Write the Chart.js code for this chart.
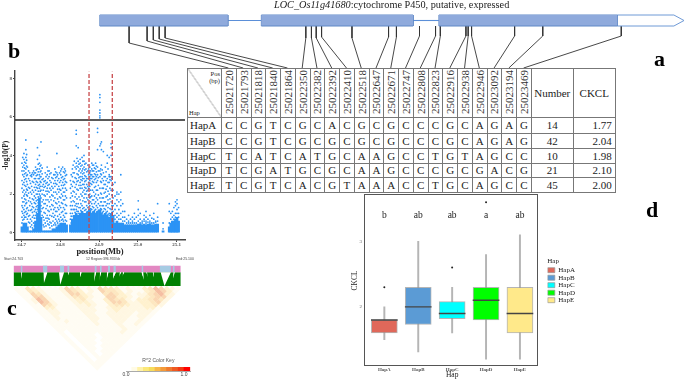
<!DOCTYPE html>
<html><head><meta charset="utf-8">
<script src="https://cdn.jsdelivr.net/npm/chart.js@4"></script>
<style>
html,body{margin:0;padding:0;background:#fff;width:685px;height:380px;overflow:hidden}
#fig{position:absolute;left:0;top:0;width:685px;height:380px;filter:blur(.35px)}
canvas{position:absolute;display:block}
.t{position:absolute;font-family:"Liberation Serif",serif;color:#000;white-space:nowrap}
.l{font-weight:bold;font-size:22px;line-height:22px}
.s{font-family:"Liberation Sans",sans-serif;font-size:3.5px;color:#444}
table{position:absolute;left:187px;top:68px;border-collapse:collapse;table-layout:fixed;font-family:"Liberation Serif",serif;font-size:11px;color:#222;background:#fff}
td,th{border:1px solid #777;padding:0;text-align:center;font-weight:normal;line-height:11px;overflow:hidden}
.v{writing-mode:vertical-rl;transform:rotate(180deg);display:inline-block;line-height:12px;color:#333}
.corner{position:relative;background:linear-gradient(to top right,transparent calc(50% - .5px),#777 50%,transparent calc(50% + .5px))}
.corner span{position:absolute;font-size:6.5px;line-height:7px}
</style></head><body><div id="fig">
<canvas id="gene" width="685" height="69" style="left:0;top:0"></canvas>
<div class="t" style="left:274px;top:-1px;font-size:10.25px;color:#222"><i>LOC_Os11g41680</i>:cytochrome P450, putative, expressed</div>
<div id="tbl"></div>
<canvas id="gwas" width="190" height="196" style="left:0;top:62px"></canvas>
<canvas id="ld" width="195" height="128" style="left:0;top:252px"></canvas>
<canvas id="key" width="78" height="28" style="left:118px;top:352px"></canvas>
<canvas id="box" width="250" height="190" style="left:340px;top:190px"></canvas>
<div class="t s" style="left:4px;top:257px">Start:24.703</div>
<div class="t s" style="left:86px;top:257px">12 Region:396.933 kb</div>
<div class="t s" style="left:176px;top:257px">End:25.100</div>
<div class="t l" style="left:654px;top:48px">a</div>
<div class="t l" style="left:8px;top:40px">b</div>
<div class="t l" style="left:7px;top:297px">c</div>
<div class="t l" style="left:646px;top:199px">d</div>
<div style="position:absolute;left:364px;top:194px;width:172px;height:170px;border:1.5px solid #555;pointer-events:none"></div>
</div>
<script>
// ---------- panel a: gene model and table ----------
const snpPositions = ['25021720','25021793','25021818','25021840','25021864','25022350','25022382','25022392','25022410','25022518','25022647','25022671','25022747','25022808','25022823','25022916','25022938','25022946','25023092','25023194','25023469'];
const snpGeneMarks = [25021720,25021784,25021806,25021827,25021848,25022348,25022368,25022385,25022404,25022512,25022642,25022670,25022752,25022809,25022826,25022917,25022925,25022937,25023090,25023190,25023469];
const elbowLevels = [43,41,40,39,38,38,38,38,37,38,37,37,36,36,36,36,36,36,36,36,36];
const haplotypes = ['HapA','HapB','HapC','HapD','HapE'];
const hapAlleles = ['CCGTCGCACGCGCCCGCAGAG','CCGTCGCGCGCGCCCGCAGAG','TCATCATGCAAGCCTGTAGCC','TCGATGCGCAAGCCCGCGACG','TCGTCACGTAAACCTGCAGCC'];
const hapNumber = [14,42,10,21,45];
const hapCKCL = ['1.77','2.04','1.98','2.10','2.00'];
const exons = [[25021616,25022071],[25022190,25022729],[25022821,25023454]];
const introns = [[25022071,25022190],[25022729,25022821]];
const utr = [25023454,25023656,25023692];

// ---------- panel b: association scan ----------
const gwasThreshold = 5.84;
const gwasRegion = [24.874,24.934];
const gwasPos = [24.701,24.706,24.711,24.715,24.721,24.726,24.731,24.736,24.741,24.746,24.750,24.756,24.761,24.766,24.771,24.776,24.781,24.786,24.791,24.796,24.801,24.806,24.811,24.816,24.826,24.831,24.836,24.841,24.846,24.851,24.856,24.861,24.866,24.871,24.876,24.881,24.886,24.891,24.896,24.902,24.906,24.911,24.916,24.921,24.926,24.931,24.936,24.941,24.946,24.951,24.956,24.961,24.966,24.971,24.976,24.981,24.986,24.991,24.996,25.001,25.006,25.011,25.016,25.021,25.026,25.031,25.036,25.041,25.046,25.051,25.065,25.081,25.085,25.089,25.093,25.097,25.101,25.105];
const gwasBand = [.3,.5,.5,.3,.1,.1,.2,.6,1,1.8,.8,.1,.1,.1,.1,.1,.2,.2,.3,.4,.5,.5,.5,.4,.4,.7,.9,1,.9,1,1.1,1,1,1.1,1.2,1,1.1,1,1.1,1.2,1,.9,1,.9,.8,1,.9,.5,.6,.5,.5,.5,.4,.4,.4,.4,.4,.4,.4,.45,.45,.4,.45,.4,.45,.45,.4,.4,.45,.45,.1,.3,.5,.6,.6,.7,.8,.6];
const gwasLogP = [
[.5,.8,1.1,1.4,1.8,2.3,2.7,3.2,3.6],
[.7,.9,1.2,1.6,1.9,2.2,2.6,2.9,3.2,3.5,3.8,4.1],
[.8,1.1,1.5,1.7,2.1,2.4,2.8,3.1,3.3,3.6,3.9,4.3,4.8],
[.7,1,1.3,1.9,2.2,2.5,3,3.4],
[.5,.9,1.4,1.8,2.3,2.7,3.1],
[.4,.6,1.2,1.5,2,2.4,2.9,3],
[.5,.9,1.3,1.7,2.1,2.6,3,3.2],
[.9,1.2,1.5,1.8,2.2,2.5,2.8,3.1,3.4],
[1.2,1.4,1.7,2,2.3,2.6,3,3.3,3.8,4.4],
[2,2.3,2.5,2.8,3,3.3,3.6,4],
[1.1,1.4,1.8,2.2,2.6,2.9,3.2,3.5,4.7],
[.4,.8,1.3,1.7,2.2,2.5,2.8],
[.5,1,1.5,1.9,2.4,2.7,3.1],
[.6,.9,1.4,2,2.3,2.6,3,3.4],
[.4,.7,1.1,1.6,2.1,2.5,2.9,3.2],
[.5,1.2,1.7,2.2,2.6,3.1],
[.6,1,1.4,1.9,2.3,2.8],
[.5,.9,1.3,1.8,2.4,2.7,3,3.3],
[.6,1.1,1.5,2,2.5,2.9,3.1,4.1],
[.7,1.2,1.6,2.1,2.4,2.8,3.4],
[.8,1.3,1.8,2.2,2.7,3,3.2],
[.7,1.1,1.5,1.9,2.3,2.6,2.9,3.4],
[.8,1.2,1.7,2.1,2.5,2.8,3.1,3.3],
[.6,1,1.4,1.8,2.2,2.6,3],
[.7,1,1.4,1.8,2.3,2.7],
[1,1.4,1.9,2.4,2.9,3.3],
[1.2,1.6,2.1,2.6,3.1,3.7],
[1.2,1.5,2,2.5,2.8,3.3,3.6,4.5,5.1,5.3],
[1.1,1.5,2.2,2.7,3,3.4,3.7,4.4],
[1.3,1.7,2.3,2.6,2.9,3.3,3.6,3.8],
[1.4,1.9,2.3,2.7,2.9,3.2,3.5,3.9],
[1.3,1.8,2.2,2.5,2.8,3.1,3.4,3.7,4],
[1.2,1.6,2,2.3,2.7,2.9,3.3,3.6],
[1.3,1.7,2.2,2.4,2.8,3.2,3.5],
[1.4,1.8,2,2.4,2.7,2.9,3.1,3.4],
[1.2,1.5,1.9,2.5,2.8,3,3.3,3.6],
[1.3,1.7,2.1,2.6,2.9,3.2,3.5],
[1.2,1.6,2,2.4,2.8,3,3.3,3.6],
[1.3,1.7,2.2,2.7,3,3.4,4.3,5.2,5.4],
[1.4,1.8,2.3,2.9,3.2,4.5,5.95,6.05,6.2,6.35,6.75,7,7.15],
[1.2,1.6,2,2.6,3,3.5,4.3,4.7],
[1.1,1.4,1.8,2.3,2.7,3.1,4.2],
[1.2,1.6,2.1,2.5,2.9,3.4],
[1.1,1.5,1.9,2.4,2.8,3.6,4],
[1,1.5,2,2.6,2.9,3,3.9],
[1.2,1.6,2.2,2.7,2.9,3.5,4,4.4,4.6],
[1.1,1.4,1.8,2.2,2.5],
[.7,.9,1.2,1.5,1.9,2.6],
[.8,1,1.4,1.7,2,2.1],
[.7,.9,1.2,1.6,2],
[.7,1,1.4,1.7,2.1,3],
[.6,.8,1.1,1.5],
[.6,.8,1.1],
[.5,.7],
[.5,.6,.9],
[.5,.7],
[.5,.6,.8],
[.5,.7,1],
[.5,.8],
[.6,.9,1.2,1.65],
[.5,.7,1],
[.5,.6],
[.6,.7,.9],
[.5,.6,.8,1.1],
[.55,.7],
[.5,.6,.9],
[.5,.75],
[.5,.7,1],
[.55,.6],
[.6,.8,1.5],
[.2,.5],
[.5,1.1,1.5],
[.7,1],
[.8,1.1],
[.7,.9,1.3],
[.8,1,1.4,1.6],
[1,1.2,1.5,1.7],
[.8,1,1.3]
];
const gwasPosInner = [24.703,24.708,24.713,24.718,24.723,24.728,24.733,24.738,24.743,24.748,24.753,24.758,24.763,24.768,24.773,24.778,24.783,24.788,24.793,24.798,24.803,24.808,24.813,24.828,24.833,24.838,24.843,24.848,24.853,24.858,24.863,24.868,24.873,24.878,24.883,24.888,24.893,24.898,24.904,24.908,24.913,24.918,24.923,24.928,24.933];
const gwasLogPInner = [
[.65,1,1.3,1.6,2.1,2.5,3,3.4,3.9],
[.8,1.05,1.4,1.75,2,2.45,2.75,3.05,3.35,3.65],
[.95,1.25,1.55,1.95,2.25,2.65,2.95,3.45,3.75,4.05],
[.55,.85,1.15,1.65,2.05,2.35,2.8,3.2],
[.3,.7,1.15,1.6,2.1,2.55,2.95],
[.25,.8,1.05,1.35,1.75,2.2,2.65,3.1],
[.35,.75,1.1,1.55,1.9,2.35,2.8,3.1],
[.75,1.05,1.35,1.65,2,2.35,2.65,2.95,3.25],
[1.1,1.3,1.55,1.85,2.15,2.45,2.8,3.15,3.55],
[1.9,2.15,2.4,2.65,2.9,3.15,3.45],
[.9,1.25,1.6,2,2.4,2.75,3.05,3.35],
[.3,.65,1.05,1.5,1.95,2.35,2.65],
[.35,.75,1.25,1.7,2.15,2.55,2.9],
[.45,.75,1.15,1.7,2.15,2.45,2.8,3.2],
[.25,.55,.9,1.35,1.85,2.3,2.7,3.05],
[.35,.85,1.45,1.95,2.4,2.85],
[.4,.8,1.2,1.65,2.1,2.55,3],
[.4,.7,1.1,1.55,2.1,2.55,2.85,3.15],
[.5,.85,1.3,1.75,2.25,2.7,3],
[.6,.95,1.4,1.85,2.25,2.6,3.1],
[.65,1.05,1.55,2,2.45,2.85,3.3],
[.6,.9,1.3,1.7,2.1,2.45,2.75,3.15],
[.65,1,1.45,1.9,2.3,2.65,2.95,3.2],
[.5,.85,1.2,1.6,2.05,2.5,3],
[.85,1.2,1.65,2.15,2.65,3.1,3.5],
[1.05,1.4,1.85,2.35,2.85,3.4],
[1.1,1.35,1.75,2.25,2.65,3.05,3.45,3.85],
[1,1.3,1.85,2.45,2.85,3.2,3.55],
[1.15,1.5,2,2.45,2.75,3.1,3.45],
[1.25,1.65,2.1,2.5,2.8,3.05,3.3,3.7],
[1.15,1.6,2,2.35,2.65,2.95,3.25,3.55],
[1.05,1.4,1.8,2.15,2.5,2.8,3.15],
[1.15,1.5,1.95,2.3,2.6,3,3.3],
[1.25,1.6,1.85,2.2,2.55,2.8,3,3.2],
[1.05,1.35,1.7,2.2,2.65,2.9,3.2,3.5],
[1.15,1.5,1.9,2.35,2.75,3.05,3.35],
[1.05,1.4,1.8,2.2,2.6,2.9,3.15,3.45],
[1.15,1.5,1.95,2.45,2.85,3.2],
[1.25,1.6,2.05,2.65,3.05,3.3,4.6],
[1.05,1.4,1.8,2.3,2.8,3.25],
[.95,1.25,1.6,2.05,2.5,2.9],
[1.05,1.4,1.85,2.25,2.7,3.15],
[.95,1.3,1.7,2.15,2.6,3.3],
[.9,1.25,1.75,2.3,2.75,2.9],
[1.05,1.4,1.95,2.45,2.8,3.2]
];

// ---------- panel c: LD heat map ----------
const ldMarkers = 30;
const ldRows = ['114321112543121544312113465321','11432111254312154431211346531','1154211125532114543212245632','115521112443211553321234552','12652111234211354421334542','1265211123321135542233452','115421112232113443223342','11331111222112332222331','1122111122211232222221','112211112211222221221','11211111221122221221','1121111122112221121','111211112111221121','11111111211121121','1111111111112111','111111111111211','10111111111211','1011110111111','101111011111','10111011111','1011101111','101101111','10110111','1010111','101011','10111','1011','111','11','1'];
const ldPalette = ['#ffffff','#fffcf3','#fff7e2','#fff1ce','#fde7c0','#fad6b2','#f5bea2','#f2a888'];
const blueStripes = [[1.26,1.61],[5.28,6.08],[8.32,9.06],[9.64,10.04],[14.52,14.92],[15.49,15.83],[16.92,17.33],[17.9,18.36],[22.95,23.29],[26.22,28.23],[28.57,28.92]];
const whiteWedges = [[1.38,1.26,1.55,-1.95],[5.34,5.45,6.08,-1.15],[8.15,8.38,9.06,-.46],[9.75,9.47,9.93,-1.95],[11.93,11.59,12.22,-1.38],[14.52,14.34,14.8,-.8],[15.49,15.26,15.72,-1.38],[16.75,16.52,17.04,-1.15],[17.9,17.27,18.36,-.23],[19.05,18.47,19.28,-1.38],[19.62,19.05,19.85,-1.95],[22.95,23.52,23.29,-1.6],[23.81,24.38,23.98,-1.95],[24.96,25.36,25.13,-1.95],[26.39,27.08,28.23,0],[28.69,28.4,28.92,-1.38]];
const keyPos = [.05,.15,.25,.35,.45,.55,.65,.75,.85,.95,1.05];
const keyColors = ['#ffffff','#fffbe6','#fff2a8','#fbe87a','#f6dc5c','#f7b74a','#f39a3a','#ef7a2e','#ee5a22','#f23a14','#ff0000'];

// ---------- panel d: CKCL box plot ----------
const boxColors = ['#e0685a','#5b9bd5','#00ffff','#00ff00','#ffe98a'];
const boxQ1 = [1.6,1.73,1.82,1.8,1.6];
const boxQ3 = [1.8,2.3,2.08,2.3,2.3];
const boxMedian = [1.8,2,1.9,2.1,1.9];
const whiskerLow = [1.5,1.31,1.6,1.2,1.2];
const whiskerHigh = [2,3,2.3,2.8,3.1];
const outlierHap = [1,3,4];
const outlierVal = [2.3,2.6,3.6];
const letters = ['b','ab','ab','a','ab'];
const letterY = 3.4;

// ---------- build table ----------
(function(){
  let h = '<table style="width:428px"><colgroup><col style="width:34px">'+snpPositions.map(()=>'<col style="width:14.76px">').join('')+'<col style="width:42px"><col style="width:42px"></colgroup>';
  h += '<tr style="height:49px"><th class="corner"><span style="right:1px;top:1px;text-align:right">Pos<br>(bp)</span><span style="left:1px;bottom:1px">Hap</span></th>';
  h += snpPositions.map(p=>'<th><span class="v">'+p+'</span></th>').join('');
  h += '<th>Number</th><th>CKCL</th></tr>';
  const rowH=[16,15,15,14,15];
  haplotypes.forEach((hp,i)=>{
    h += '<tr style="height:'+rowH[i]+'px"><td style="text-align:left;padding-left:2px">'+hp+'</td>';
    h += hapAlleles[i].split('').map(a=>'<td>'+a+'</td>').join('');
    h += '<td>'+hapNumber[i]+'</td><td style="text-align:right;padding-right:3px">'+hapCKCL[i]+'</td></tr>';
  });
  document.getElementById('tbl').innerHTML = h+'</table>';
})();

Chart.defaults.animation = false;
Chart.defaults.responsive = false;
Chart.defaults.plugins.legend.display = false;
Chart.defaults.plugins.tooltip.enabled = false;
const serif = '"Liberation Serif", serif';

// ---------- gene chart (chart area = whole canvas) ----------
const pxPerBp = 0.2814, bpAtZeroPx = 25021720 - 129.1/pxPerBp;
const bpOfPx = px => bpAtZeroPx + px/pxPerBp;
const exonTop = 15, exonBot = 26, exonMid = 20.5, tableTop = 68;
const geneSets = [];
snpGeneMarks.forEach((bp,i)=>{
  geneSets.push({data:[{x:bp,y:exonBot},{x:bp,y:elbowLevels[i]},{x:bpOfPx(228.4+14.76*i),y:tableTop}],showLine:true,borderColor:'#333',borderWidth:.9,pointRadius:0,order:3});
});
introns.forEach(n=>geneSets.push({data:n.map(x=>({x,y:exonMid})),showLine:true,borderColor:'#5b8fd8',borderWidth:1.1,pointRadius:0,order:2}));
exons.forEach(e=>{
  geneSets.push({data:[{x:e[0],y:exonBot},{x:e[1],y:exonBot}],showLine:true,fill:{value:exonTop},backgroundColor:'#8faadc',borderColor:'#5f88c6',borderWidth:1,pointRadius:0,order:1});
  geneSets.push({data:[{x:e[0],y:exonBot},{x:e[0],y:exonTop},{x:e[1],y:exonTop},{x:e[1],y:exonBot}],showLine:true,borderColor:'#5f88c6',borderWidth:1,pointRadius:0,order:1});
});
geneSets.push({data:[{x:utr[0],y:exonBot},{x:utr[1],y:exonBot},{x:utr[2],y:exonMid},{x:utr[1],y:exonTop},{x:utr[0],y:exonTop}],showLine:true,borderColor:'#6f9ad6',borderWidth:1,pointRadius:0,order:1});
new Chart('gene',{type:'scatter',data:{datasets:geneSets},options:{layout:{padding:0},scales:{
  x:{type:'linear',display:false,min:bpOfPx(0),max:bpOfPx(685)},
  y:{type:'linear',display:false,min:0,max:69,reverse:true}}}});

// ---------- GWAS chart ----------
const gwasPts=[];
gwasLogP.forEach((vals,i)=>vals.forEach(v=>gwasPts.push({x:gwasPos[i],y:v})));
gwasLogPInner.forEach((vals,i)=>vals.forEach(v=>gwasPts.push({x:gwasPosInner[i],y:v})));
const blue='#2b93f5';
const axisCol='#444';
new Chart('gwas',{data:{datasets:[
  {type:'scatter',data:[{x:gwasRegion[0],y:-.38},{x:gwasRegion[0],y:8.34}],showLine:true,borderColor:'#c8474a',borderWidth:1.3,borderDash:[4,2],pointRadius:0,order:1},
  {type:'scatter',data:[{x:gwasRegion[1],y:-.38},{x:gwasRegion[1],y:8.34}],showLine:true,borderColor:'#c8474a',borderWidth:1.3,borderDash:[4,2],pointRadius:0,order:1},
  {type:'scatter',data:[{x:24.683,y:gwasThreshold},{x:25.1216,y:gwasThreshold}],showLine:true,borderColor:'#222',borderWidth:1.4,pointRadius:0,order:2},
  {type:'scatter',data:gwasPts,backgroundColor:blue,pointRadius:.9,borderWidth:0,order:3},
  {type:'bar',data:gwasPos.map((x,i)=>({x,y:[0,gwasBand[i]]})),backgroundColor:blue,barThickness:2.1,grouped:false,order:4}
]},options:{layout:{padding:{top:8.7,right:5,left:2,bottom:0}},scales:{
  x:{type:'linear',offset:false,min:24.683,max:25.1216,afterFit(s){s.height=18},afterBuildTicks(a){a.ticks=[24.7,24.8,24.9,25,25.1].map(value=>({value}))},
     ticks:{font:{family:serif,size:5,weight:'bold'},color:'#555',padding:0,maxRotation:0,callback:v=>v.toFixed(1)},
     grid:{drawOnChartArea:false,offset:false,tickLength:2,color:axisCol},border:{color:axisCol,width:1.4},
     title:{display:true,text:'position(Mb)',font:{family:serif,size:8.5,weight:'bold'},color:'#222',padding:{top:0,bottom:1}}},
  y:{type:'linear',min:-.38,max:8.39,afterFit(s){s.width=13},afterBuildTicks(a){a.ticks=[0,2,4,6,8].map(value=>({value}))},
     ticks:{font:{family:serif,size:5,weight:'bold'},color:'#555',padding:1},
     grid:{drawOnChartArea:false,tickLength:2,color:axisCol},border:{color:axisCol,width:1.4},
     title:{display:true,text:'-log10(P)',font:{family:serif,size:7.5,weight:'bold'},color:'#222',padding:0}}
}}});

// ---------- LD chart ----------
const cellPts=[],cellCols=[];
ldRows.forEach((row,r)=>row.split('').forEach((c,k)=>{cellPts.push({x:k+(r+1)/2,y:r+1});cellCols.push(ldPalette[+c]);}));
const ldSets=[];
const bandSet=(pts,base,col,ord)=>({data:pts,showLine:true,fill:{value:base},backgroundColor:col,borderWidth:0,borderColor:'transparent',pointRadius:0,order:ord});
whiteWedges.forEach(w=>ldSets.push(bandSet([{x:w[0],y:-5.06},{x:w[1],y:w[3]},{x:w[2],y:-5.06}],-5.06,'#ffffff',1)));
blueStripes.forEach(s=>ldSets.push(bandSet([{x:s[0],y:-5.06},{x:s[1],y:-5.06}],-7.47,'#a6cbe3',2)));
ldSets.push(bandSet([{x:0,y:-5.06},{x:ldMarkers,y:-5.06}],-7.47,'#e288c2',4));
ldSets.push(bandSet([{x:0,y:0},{x:ldMarkers,y:0}],-5.06,'#008000',4));
ldSets.push({data:cellPts,pointStyle:'rectRot',pointRadius:2.96,borderWidth:0,pointBorderWidth:0,pointBackgroundColor:cellCols,order:5});
new Chart('ld',{type:'scatter',data:{datasets:ldSets},options:{layout:{padding:0},scales:{
  x:{type:'linear',display:false,min:-1.72,max:31.84},
  y:{type:'linear',display:false,min:-11.02,max:33.05,reverse:true}}}});

// ---------- colour key ----------
new Chart('key',{type:'bar',data:{datasets:[{data:keyPos.map((x)=>({x,y:[0,1]})),backgroundColor:keyColors,barThickness:5.9}]},options:{
  layout:{padding:{left:8,right:5.3}},
  plugins:{title:{display:true,text:'R^2 Color Key',font:{family:'"Liberation Sans",sans-serif',size:5,weight:'normal'},color:'#555',padding:{top:6,bottom:3}}},
  scales:{x:{type:'linear',offset:false,min:0,max:1.115,afterFit(s){s.height=9},afterBuildTicks(a){a.ticks=[0,1].map(value=>({value}))},
    ticks:{font:{family:'"Liberation Sans",sans-serif',size:5},color:'#444',padding:1,callback:v=>v.toFixed(1)},grid:{display:false,drawTicks:false,offset:false},border:{color:'#aaa'}},
  y:{display:false,min:0,max:1}}}});

// ---------- box plot ----------
const xPos = haplotypes.map((_,i)=>i+1);
const hapBoxes = haplotypes.map((h,i)=>({type:'bar',label:h,data:[{x:xPos[i],y:[boxQ1[i],boxQ3[i]]}],backgroundColor:boxColors[i],borderColor:'rgba(150,150,150,.7)',borderWidth:1,borderSkipped:false,barThickness:26,grouped:false,order:3}));
const medians = {type:'bar',label:'median',data:xPos.map((x,i)=>({x,y:[boxMedian[i]-.006,boxMedian[i]+.006]})),backgroundColor:'#444',barThickness:26,grouped:false,order:1};
const whiskers = {type:'bar',label:'whisker',data:xPos.map((x,i)=>({x,y:[whiskerLow[i],whiskerHigh[i]]})),backgroundColor:'#b5b5b5',barThickness:1.3,grouped:false,order:5};
const outliers = {type:'scatter',label:'outlier',data:outlierHap.map((h,i)=>({x:h,y:outlierVal[i]})),backgroundColor:'#222',pointRadius:1,borderWidth:0,order:1};
const letterPlugin={id:'letters',afterDatasetsDraw(c){const g=c.ctx;g.save();g.font='9.5px '+serif;g.fillStyle='#222';g.textAlign='center';g.textBaseline='middle';
  letters.forEach((t,i)=>g.fillText(t,c.scales.x.getPixelForValue(xPos[i]),c.scales.y.getPixelForValue(letterY)));g.restore();}};
const legendNudge={id:'legendNudge',afterLayout(c){c.legend.left+=7;c.legend.right+=7;c.legend.top-=6;c.legend.bottom-=6;}};
new Chart('box',{data:{datasets:[...hapBoxes,medians,whiskers,outliers]},plugins:[letterPlugin,legendNudge],options:{
  layout:{padding:{top:4,bottom:0,left:11,right:12}},
  plugins:{legend:{display:true,position:'right',
    title:{display:true,text:'Hap',position:'start',font:{family:serif,size:7},color:'#222',padding:0},
    labels:{filter:(it)=>haplotypes.includes(it.text),font:{family:serif,size:7},color:'#222',boxWidth:7,boxHeight:5,padding:.5}}},
  scales:{
   x:{type:'linear',offset:false,min:.4,max:5.6,afterFit(s){s.height=14},afterBuildTicks(a){a.ticks=xPos.map(value=>({value}))},
      ticks:{font:{family:serif,size:5,weight:'bold'},color:'#555',padding:1,maxRotation:0,callback:v=>haplotypes[v-1]},
      grid:{display:false,drawTicks:false,offset:false},border:{display:false},
      title:{display:true,text:'Hap',font:{family:serif,size:7.5},color:'#222',padding:0}},
   y:{type:'linear',min:1.096,max:3.71,afterFit(s){s.width=13},afterBuildTicks(a){a.ticks=[2,3].map(value=>({value}))},
      ticks:{font:{family:serif,size:5},color:'#666',padding:2},
      grid:{display:false,drawTicks:false},border:{display:false},
      title:{display:true,text:'CKCL',font:{family:serif,size:7.5},color:'#222',padding:0}}
  }}
});
</script>
</body></html>
